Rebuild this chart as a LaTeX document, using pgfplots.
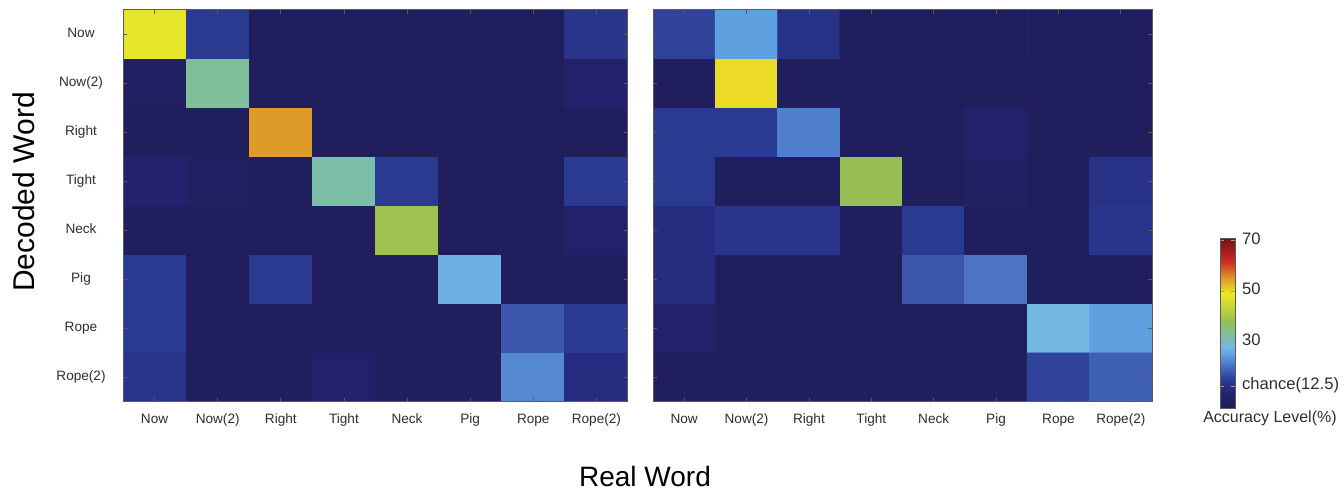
\documentclass[border=0pt]{standalone}
\usepackage{pgfplots}
\pgfplotsset{compat=1.18}
\usepackage{fontspec}
\setmainfont{Liberation Sans}
\usetikzlibrary{calc}
\definecolor{tickc}{RGB}{45,45,45}
\definecolor{framec}{RGB}{90,90,90}
\pgfplotsset{
  colormap={acc}{rgb255(4pt)=(33,29,90) rgb255(10pt)=(35,35,115) rgb255(15pt)=(42,58,145) rgb255(20pt)=(70,105,190) rgb255(25pt)=(95,160,225) rgb255(28pt)=(115,185,225) rgb255(32pt)=(125,190,170) rgb255(38pt)=(150,190,85) rgb255(44pt)=(195,215,55) rgb255(49pt)=(238,232,38) rgb255(55pt)=(222,155,40) rgb255(62pt)=(205,40,35) rgb255(71pt)=(110,20,20)},
  mat/.style={
    scale only axis, height=196pt,
    xmin=-0.5, xmax=7.5, ymin=-0.5, ymax=7.5, y dir=reverse,
    xtick={0,...,7}, ytick={0,...,7},
    xticklabels={Now,Now(2),Right,Tight,Neck,Pig,Rope,Rope(2)},
    tick align=inside, major tick length=2pt,
    tick style={framec, line width=0.4pt},
    axis line style={framec, line width=0.5pt},
    ticklabel style={font=\fontsize{6.8}{8}\selectfont, text=tickc, text height=4.9pt, text depth=1.4pt},
    xticklabel style={anchor=center, yshift=-9pt},
    colormap name=acc, point meta min=4, point meta max=71,
    enlargelimits=false, axis on top,
  },
}
\begin{document}
\begin{tikzpicture}
\useasboundingbox (0,0) rectangle (672pt,245pt);
% left matrix
\begin{axis}[mat, at={(61.5pt,44pt)}, anchor=south west, width=252.5pt,
  yticklabels={Now,Now(2),Right,Tight,Neck,Pig,Rope,Rope(2)},
  yticklabel style={anchor=center, xshift=-21pt}]
\addplot[matrix plot*, mesh/cols=8, point meta=explicit] table[meta=c] {
x y c
0 0 48
1 0 15
2 0 5
3 0 5
4 0 5
5 0 5
6 0 5
7 0 14
0 1 6
1 1 33
2 1 5
3 1 5
4 1 5
5 1 5
6 1 5
7 1 8
0 2 5
1 2 5
2 2 55
3 2 5
4 2 5
5 2 5
6 2 5
7 2 5
0 3 9
1 3 6
2 3 5
3 3 32
4 3 15
5 3 5
6 3 5
7 3 15
0 4 5
1 4 5
2 4 5
3 4 5
4 4 39
5 4 5
6 4 5
7 4 8
0 5 15
1 5 5
2 5 15
3 5 5
4 5 5
5 5 27
6 5 5
7 5 5
0 6 15
1 6 5
2 6 5
3 6 5
4 6 5
5 6 5
6 6 18
7 6 15
0 7 14
1 7 5
2 7 5
3 7 8
4 7 5
5 7 5
6 7 23
7 7 12
};
\end{axis}
% right matrix
\begin{axis}[mat, at={(326.5pt,44pt)}, anchor=south west, width=249.5pt,
  yticklabels={},
  colorbar,
  colorbar style={
    at={($(parent axis.south west)+(275pt,-3pt)$)}, anchor=south west,
    scale only axis, width=7.5pt, height=85pt,
    ytick={12.5,30,50,70}, yticklabels={chance(12.5),30,50,70},
    yticklabel style={font=\fontsize{8.3}{10}\selectfont, text=tickc},
    major tick length=2pt, tick align=inside,
    tick style={framec!60, line width=0.3pt},
    axis line style={framec, line width=0.4pt},
  }]
\addplot[matrix plot*, mesh/cols=8, point meta=explicit] table[meta=c] {
x y c
0 0 16
1 0 25
2 0 13
3 0 5
4 0 5
5 0 5
6 0 5
7 0 5
0 1 5
1 1 50
2 1 5
3 1 5
4 1 5
5 1 5
6 1 5
7 1 5
0 2 15
1 2 15
2 2 22
3 2 5
4 2 5
5 2 8
6 2 5
7 2 5
0 3 15
1 3 5
2 3 5
3 3 38
4 3 5
5 3 6
6 3 5
7 3 13
0 4 12
1 4 14
2 4 14
3 4 5
4 4 15
5 4 5
6 4 5
7 4 14
0 5 12
1 5 5
2 5 5
3 5 5
4 5 18
5 5 21
6 5 5
7 5 5
0 6 8
1 6 5
2 6 5
3 6 5
4 6 5
5 6 5
6 6 28
7 6 25
0 7 5
1 7 5
2 7 5
3 7 5
4 7 5
5 7 5
6 7 16
7 7 19
};
\end{axis}
\node[rotate=90, font=\fontsize{15}{18}\selectfont, text=black] at (12pt,149pt) {Decoded Word};
\node[anchor=base, font=\fontsize{14}{17}\selectfont, text=black] at (322.5pt,1.8pt) {Real Word};
\node[anchor=base, font=\fontsize{8}{10}\selectfont, text=tickc] at (635pt,33.5pt) {Accuracy Level(\%)};
\end{tikzpicture}
\end{document}
